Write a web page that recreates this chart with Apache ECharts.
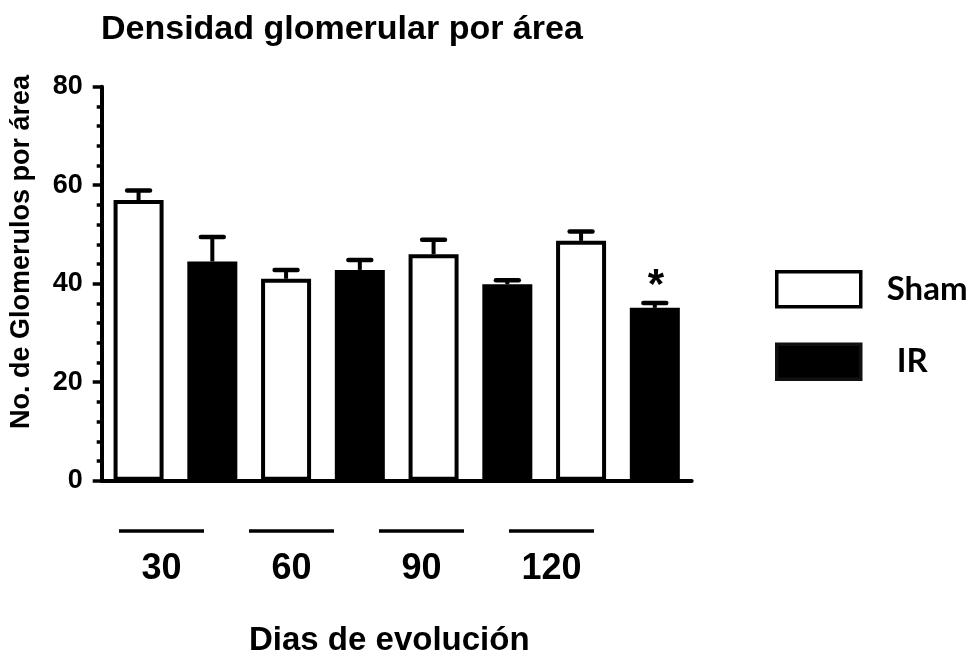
<!DOCTYPE html>
<html>
<head>
<meta charset="utf-8">
<script src="https://cdn.jsdelivr.net/npm/echarts@6/dist/echarts.min.js"></script>
<style>html,body{margin:0;padding:0;background:#fff;}#chart{width:975px;height:654px;}</style>
</head>
<body>
<div id="chart"></div>
<script>
// ---- data ----
const dayLabels = ['30', '60', '90', '120'];
const groupNames = ['Sham', 'IR'];
const shamMean = [57.0, 41.0, 46.0, 48.7];
const shamSem  = [1.9, 1.8, 2.9, 1.9];
const irMean   = [44.5, 42.8, 39.9, 35.1];
const irSem    = [5.0, 2.0, 0.8, 1.0];
const irSig    = ['', '', '', '*'];
const yTicks   = [0, 20, 40, 60, 80];

// ---- build library structures ----
const FONT = 'Liberation Sans, Arial, sans-serif';
const barCats = [];
const shamData = [], irData = [], errData = [];
dayLabels.forEach((d, i) => {
  barCats.push(d + ' ' + groupNames[0], d + ' ' + groupNames[1]);
  shamData.push(shamMean[i], '-');
  irData.push('-', irMean[i]);
  errData.push([2 * i, shamMean[i], shamMean[i] + shamSem[i], '']);
  errData.push([2 * i + 1, irMean[i], irMean[i] + irSem[i], irSig[i]]);
});

const chart = echarts.init(document.getElementById('chart'));
chart.setOption({
  animation: false,
  backgroundColor: '#fff',
  title: [
    { text: 'Densidad glomerular por área', left: 96, top: 8,
      textStyle: { fontFamily: FONT, fontWeight: 'bold', fontSize: 34, color: '#000' } },
    { text: 'Dias de evolución', left: 244, top: 619,
      textStyle: { fontFamily: FONT, fontWeight: 'bold', fontSize: 33, color: '#000' } }
  ],
  graphic: [{
    type: 'text', x: 22, y: 252, rotation: Math.PI / 2,
    style: { text: 'No. de Glomerulos por área', align: 'center', verticalAlign: 'middle',
      font: 'bold 27px ' + FONT, fill: '#000' }
  }],
  legend: {
    orient: 'vertical', left: 775, top: 270, padding: 0,
    itemWidth: 84, itemHeight: 35, itemGap: 34, icon: 'rect',
    textStyle: { fontFamily: 'Lato, Open Sans, sans-serif', fontWeight: 'bold', fontSize: 33, color: '#000' },
    data: [
      { name: groupNames[0], itemStyle: { color: '#fff', borderColor: '#000', borderWidth: 3.5 },
        textStyle: { padding: [0, 0, 0, 21] } },
      { name: groupNames[1], itemStyle: { color: '#000', borderColor: '#111', borderWidth: 3.5 },
        textStyle: { padding: [0, 0, 0, 31] } }
    ]
  },
  grid: [
    { left: 101.7, right: 283.3, top: 86.7, bottom: 173.3 },
    { left: 96.5, width: 520, top: 530, height: 1 }
  ],
  xAxis: [
    { type: 'category', gridIndex: 0, data: barCats, boundaryGap: true,
      axisLine: { lineStyle: { color: '#000', width: 4 } },
      axisTick: { alignWithLabel: true, length: 8, lineStyle: { color: '#000', width: 3 } },
      axisLabel: { show: false } },
    { type: 'category', gridIndex: 1, data: dayLabels, position: 'bottom',
      axisLine: { show: false }, axisTick: { show: false },
      axisLabel: { margin: 20, fontFamily: FONT, fontWeight: 'bold', fontSize: 36, color: '#000' } }
  ],
  yAxis: [
    { type: 'value', gridIndex: 0, min: yTicks[0], max: yTicks[yTicks.length - 1], interval: 20,
      splitLine: { show: false },
      axisLine: { show: true, lineStyle: { color: '#000', width: 4 } },
      axisTick: { show: true, length: 9, lineStyle: { color: '#000', width: 3.5 } },
      minorTick: { show: true, splitNumber: 5, length: 5, lineStyle: { color: '#000', width: 3.5 } },
      axisLabel: { margin: 19, fontFamily: FONT, fontWeight: 'bold', fontSize: 27, color: '#000' } },
    { type: 'value', gridIndex: 1, min: 0, max: 1, show: false }
  ],
  series: [
    { name: groupNames[0], type: 'bar', xAxisIndex: 0, yAxisIndex: 0, data: shamData,
      barWidth: 50, barGap: '-100%',
      itemStyle: { color: '#fff', borderColor: '#000', borderWidth: 4 } },
    { name: groupNames[1], type: 'bar', xAxisIndex: 0, yAxisIndex: 0, data: irData,
      barWidth: 50, barGap: '-100%',
      itemStyle: { color: '#000', borderColor: '#000', borderWidth: 4 } },
    { type: 'custom', xAxisIndex: 0, yAxisIndex: 0, data: errData, z: 5,
      renderItem: function (params, api) {
        const idx = api.value(0);
        const base = api.coord([idx, api.value(1)]);
        const top = api.coord([idx, api.value(2)]);
        const half = api.size([1, 0])[0] * 0.155;
        const children = [
          { type: 'line', shape: { x1: top[0], y1: base[1], x2: top[0], y2: top[1] },
            style: { stroke: '#000', lineWidth: 4 } },
          { type: 'line', shape: { x1: top[0] - half, y1: top[1], x2: top[0] + half, y2: top[1] },
            style: { stroke: '#000', lineWidth: 4.5, lineCap: 'round' } }
        ];
        const lab = errData[params.dataIndex][3];
        if (lab) {
          children.push({ type: 'text', x: top[0] + 1, y: top[1] - 16,
            style: { text: lab, align: 'center', verticalAlign: 'middle',
              font: 'bold 42px ' + FONT, fill: '#000' } });
        }
        return { type: 'group', children: children };
      } },
    { type: 'custom', xAxisIndex: 1, yAxisIndex: 1, data: dayLabels.map((d, i) => [i, 0]),
      renderItem: function (params, api) {
        const p = api.coord([api.value(0), api.value(1)]);
        const half = api.size([1, 0])[0] * 0.327;
        return { type: 'line', shape: { x1: p[0] - half, y1: p[1], x2: p[0] + half, y2: p[1] },
          style: { stroke: '#000', lineWidth: 3.5 } };
      } }
  ]
});
</script>
</body>
</html>
